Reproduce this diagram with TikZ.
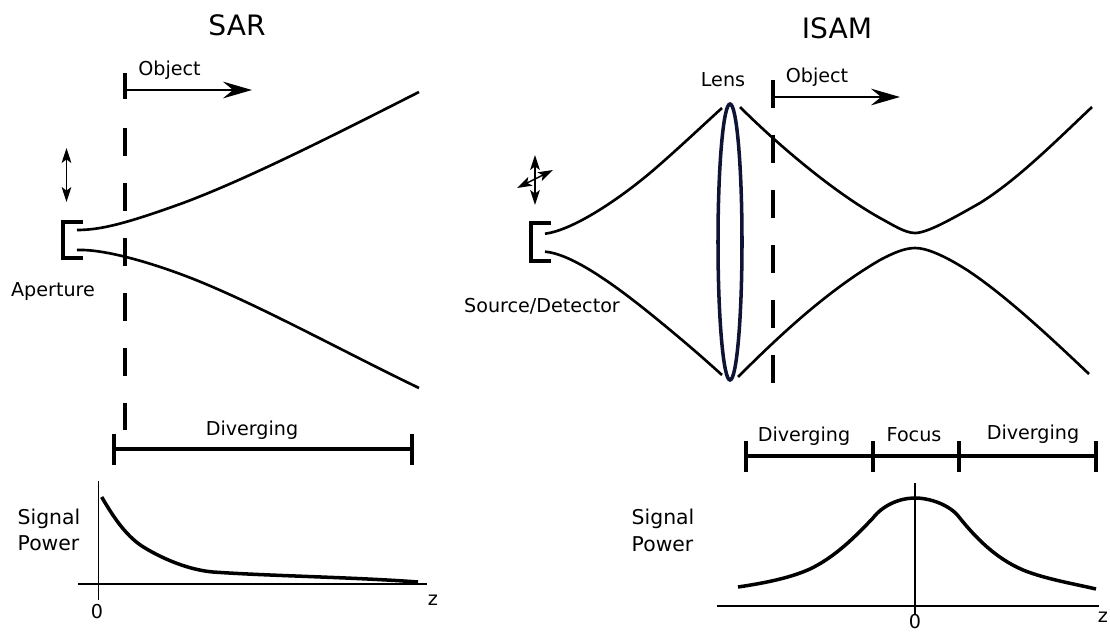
\documentclass[tikz,border=0pt]{standalone}
\usepackage{fontspec}
\setmainfont{DejaVu Sans}
\usetikzlibrary{arrows.meta}
\definecolor{lensblue}{RGB}{16,20,52}
\tikzset{
  title/.style={font=\fontsize{16}{18}\selectfont},
  label/.style={font=\fontsize{10.9}{13}\selectfont},
  twoline/.style={font=\fontsize{11.6}{15}\selectfont, align=left},
  beam/.style={line width=1.5pt},
  axisline/.style={line width=0.85pt},
  powercurve/.style={line width=2pt},
  rangebar/.style={line width=1.9pt},
  bracket/.style={line width=1.9pt},
  screen/.style={line width=1.75pt, dash pattern=on 28*0.569pt off 27*0.569pt},
  objarrow/.style={line width=1.1pt, -{Stealth[length=16.5pt, width=9.5pt, inset=5.7pt]}},
  scanarrow/.style={line width=0.8pt, {Stealth[length=8.5pt, width=5.5pt, inset=2pt]}-{Stealth[length=8.5pt, width=5.5pt, inset=2pt]}}
}
\begin{document}
\begin{tikzpicture}[x=0.02cm, y=-0.02cm]
            \useasboundingbox (0,0) rectangle (1110,632);

            % SAR geometry (left)
            \node[title] (sarTitle) at (237,25) {SAR};
            \node[label] (sarObject) at (169.5,70) {Object};
            \node[label] (aperture) at (53,292) {Aperture};
            \coordinate (sarObjA) at (125,90);
            \coordinate (sarObjB) at (252,90);
            \draw[rangebar] (125,73) -- (125,99);
            \draw[objarrow] (sarObjA) -- (sarObjB);
            \draw[screen] (125,128) -- (125,430);
            \coordinate (sarScanA) at (66.5,148);
            \coordinate (sarScanB) at (66.5,202);
            \draw[scanarrow] (sarScanA) -- (sarScanB);
            \draw[bracket] (83,222) -- (63,222) -- (63,258) -- (83,258);
            \draw[beam] (77,230) .. controls (100,230) and (125,224) .. (183,203) .. controls (250,178) and (340,132) .. (419,92);
            \draw[beam] (77,250) .. controls (100,249) and (140,259) .. (183,275) .. controls (250,300) and (340,350) .. (419,388);

            % SAR range bar
            \node[label] (sarDiv) at (252,430) {Diverging};
            \coordinate (sarBarA) at (114,449);
            \coordinate (sarBarB) at (412,449);
            \draw[rangebar] (sarBarA) -- (sarBarB);
            \foreach \tick in {sarBarA, sarBarB}
                \draw[rangebar] (\tick) ++(0,-15) -- ++(0,31);

            % SAR signal plot
            \node[twoline] (sarPower) at (49,530) {Signal\\Power};
            \node[label] (sarZero) at (97,612) {0};
            \node[label] (sarZ) at (433,600) {z};
            \draw[axisline] (98.5,481) -- (98.5,600);
            \draw[axisline] (78,584) -- (427,584);
            \draw[powercurve] (101.7,497) .. controls (115,520) and (128,538) .. (145,548) .. controls (165,560) and (190,570) .. (213,572) .. controls (270,576) and (350,577) .. (418,582);

            % ISAM geometry (right)
            \node[title] (isamTitle) at (837,28) {ISAM};
            \node[label] (isamObject) at (817,77) {Object};
            \node[label] (lensLabel) at (723,80) {Lens};
            \node[label] (source) at (542,306) {Source/Detector};
            \coordinate (isamObjA) at (773,97);
            \coordinate (isamObjB) at (900,97);
            \draw[rangebar] (773,80) -- (773,108);
            \draw[objarrow] (isamObjA) -- (isamObjB);
            \draw[screen] (773,135) -- (773,385);
            \draw[line width=2pt, lensblue] (730,242) ellipse (12 and 138);
            \coordinate (isamScanA) at (535,155);
            \coordinate (isamScanB) at (535,205);
            \coordinate (isamScanC) at (517,188);
            \coordinate (isamScanD) at (553,170);
            \draw[scanarrow] (isamScanA) -- (isamScanB);
            \draw[scanarrow] (isamScanC) -- (isamScanD);
            \draw[bracket] (551,223) -- (531,223) -- (531,261) -- (551,261);
            \draw[beam] (545,233.7) .. controls (575,230) and (625,195) .. (657,167) .. controls (680,147) and (700,128) .. (722,108);
            \draw[beam] (545,251.7) .. controls (575,254) and (625,293) .. (658,320) .. controls (680,338) and (700,355) .. (722,375);
            \draw[beam] (740,107) .. controls (773,140) and (830,190) .. (880,218) .. controls (893,225) and (905,233) .. (915,233) .. controls (927,233) and (950,220) .. (980,203) .. controls (1017,180) and (1055,142) .. (1092,107);
            \draw[beam] (738,377) .. controls (775,340) and (825,292) .. (880,260) .. controls (893,253) and (905,248) .. (915,248) .. controls (927,248) and (945,256) .. (967,270) .. controls (1005,295) and (1050,337) .. (1089,374);

            % ISAM range bar
            \node[label] (isamDivA) at (804,436) {Diverging};
            \node[label] (isamFocus) at (914,435) {Focus};
            \node[label] (isamDivB) at (1033,434) {Diverging};
            \coordinate (isamBarA) at (746,456);
            \coordinate (isamBarB) at (873,456);
            \coordinate (isamBarC) at (959,456);
            \coordinate (isamBarD) at (1096,456);
            \draw[rangebar] (isamBarA) -- (isamBarD);
            \foreach \tick in {isamBarA, isamBarB, isamBarC, isamBarD}
                \draw[rangebar] (\tick) ++(0,-15) -- ++(0,31);

            % ISAM signal plot
            \node[twoline] (isamPower) at (663,530.5) {Signal\\Power};
            \node[label] (isamZero) at (915,622) {0};
            \node[label] (isamZ) at (1103,617) {z};
            \draw[axisline] (915,483) -- (915,614);
            \draw[axisline] (717,606) -- (1099,606);
            \draw[powercurve] (738,587) .. controls (765,583) and (790,578) .. (810,569) .. controls (835,557) and (855,537) .. (873,518) .. controls (883,505) and (900,498) .. (915,498) .. controls (930,498) and (950,505) .. (959,517) .. controls (975,537) and (995,558) .. (1023,570) .. controls (1045,579) and (1075,584) .. (1096,589);
\end{tikzpicture}
\end{document}
